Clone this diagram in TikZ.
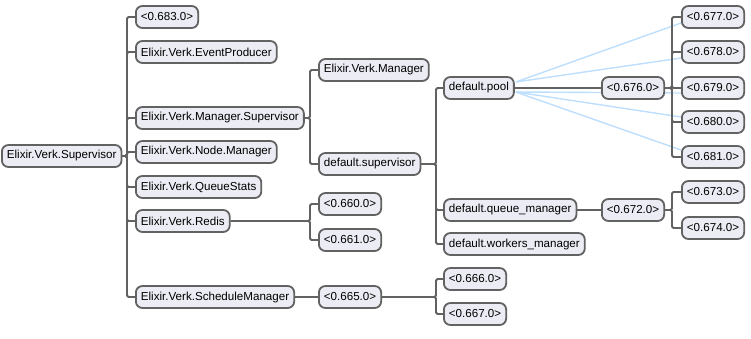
\documentclass[tikz,border=0pt]{standalone}
\usepackage{fontspec}
\setmainfont{Liberation Sans}
\usepackage{xcolor}
\definecolor{boxfill}{RGB}{236,236,244}
\definecolor{edgegray}{RGB}{98,98,98}
\definecolor{monitorblue}{RGB}{189,222,252}
\usetikzlibrary{positioning, calc, backgrounds}

\begin{document}
\begin{tikzpicture}[
    x=1pt, y=-1pt,
    proc/.style={rectangle, draw=edgegray, fill=boxfill, line width=1.8pt, rounded corners=6.5pt, minimum height=22pt, inner xsep=5pt, inner ysep=0pt, anchor=west, font=\fontsize{11.6}{13}\selectfont},
    link/.style={draw=edgegray, line width=1.8pt, rounded corners=1.5pt},
    monitor/.style={draw=monitorblue, line width=1.4pt}
]
\useasboundingbox (0,0) rectangle (751,339);

% Verk supervisor and its children
\node[proc] (root) at (1,156) {Elixir.Verk.Supervisor};
\node[proc] (p683) at (135,17) {<0.683.0>};
\node[proc] (producer) at (135,52) {Elixir.Verk.EventProducer};
\node[proc] (mgrsup) at (135,118) {Elixir.Verk.Manager.Supervisor};
\node[proc] (nodemgr) at (135,152) {Elixir.Verk.Node.Manager};
\node[proc] (stats) at (135,187) {Elixir.Verk.QueueStats};
\node[proc] (redis) at (135,221) {Elixir.Verk.Redis};
\node[proc] (schedmgr) at (135,297) {Elixir.Verk.ScheduleManager};

% Manager supervisor
\node[proc] (manager) at (318,70) {Elixir.Verk.Manager};
\node[proc] (defsup) at (318,164) {default.supervisor};
\node[proc] (pool) at (443,88) {default.pool};
\node[proc] (queuemgr) at (443,210) {default.queue\_manager};
\node[proc] (workersmgr) at (443,244) {default.workers\_manager};

% Pool workers
\node[proc] (p676) at (601,88) {<0.676.0>};
\node[proc] (p677) at (681,17) {<0.677.0>};
\node[proc] (p678) at (681,52) {<0.678.0>};
\node[proc] (p679) at (681,88) {<0.679.0>};
\node[proc] (p680) at (681,122) {<0.680.0>};
\node[proc] (p681) at (681,157) {<0.681.0>};

% Queue manager
\node[proc] (p672) at (601,210) {<0.672.0>};
\node[proc] (p673) at (681,192) {<0.673.0>};
\node[proc] (p674) at (681,228) {<0.674.0>};

% Redis and schedule manager
\node[proc] (p660) at (318,204) {<0.660.0>};
\node[proc] (p661) at (318,240) {<0.661.0>};
\node[proc] (p665) at (318,297) {<0.665.0>};
\node[proc] (p666) at (443,279) {<0.666.0>};
\node[proc] (p667) at (443,314) {<0.667.0>};

% Branch points
\coordinate (t0) at (127,156);
\coordinate (t1) at (310,118);
\coordinate (t2) at (310,221);
\coordinate (t3) at (436,164);
\coordinate (t4) at (672,88);
\coordinate (t5) at (672,210);
\coordinate (t6) at (436,297);

\begin{pgfonlayer}{background}
% Monitor links
\draw[monitor] ($(pool.east)+(1,-6)$) -- ($(p677.west)+(0,6)$);
\draw[monitor] ($(pool.east)+(1,-6)$) -- ($(p678.west)+(0,6)$);
\draw[monitor] ($(pool.east)+(1,4)$) -- ($(p679.west)+(0,5)$);
\draw[monitor] ($(pool.east)+(1,4)$) -- ($(p680.west)+(0,-5)$);
\draw[monitor] ($(pool.east)+(1,4)$) -- ($(p681.west)+(0,-7)$);

% Tree links
\foreach \c in {p683, producer, mgrsup, nodemgr, stats, redis, schedmgr}
  \draw[link] (root.east) -- (t0) |- (\c.west);
\foreach \c in {manager, defsup}
  \draw[link] (mgrsup.east) -- (t1) |- (\c.west);
\foreach \c in {p660, p661}
  \draw[link] (redis.east) -- (t2) |- (\c.west);
\foreach \c in {pool, queuemgr, workersmgr}
  \draw[link] (defsup.east) -- (t3) |- (\c.west);
\foreach \c in {p677, p678, p679, p680, p681}
  \draw[link] (p676.east) -- (t4) |- (\c.west);
\foreach \c in {p673, p674}
  \draw[link] (p672.east) -- (t5) |- (\c.west);
\foreach \c in {p666, p667}
  \draw[link] (p665.east) -- (t6) |- (\c.west);
\draw[link] (pool) -- (p676);
\draw[link] (queuemgr) -- (p672);
\draw[link] (schedmgr) -- (p665);
\end{pgfonlayer}

\end{tikzpicture}
\end{document}
